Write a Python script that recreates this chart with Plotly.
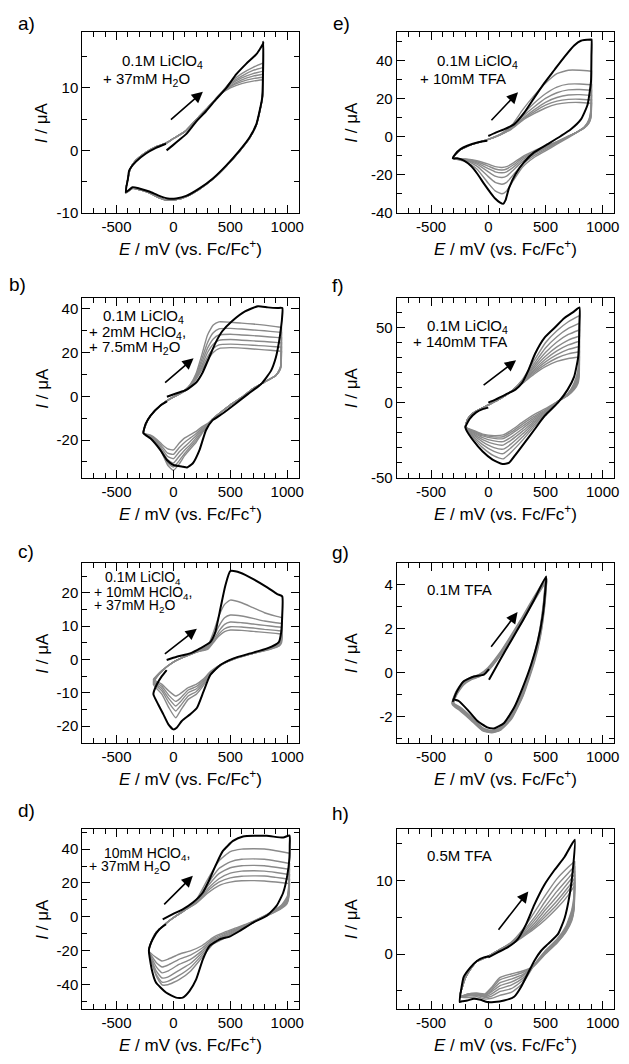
import plotly.graph_objects as go

W, H = 629, 1064
FONT = "Liberation Sans, Arial, sans-serif"

# ---------------- shared axis data ----------------
X_RANGE = [-800, 1100]
X_TICK_VALS = [-500, 0, 500, 1000]
X_TICK_TEXT = ["-500", "0", "500", "1000"]

# ---------------- panel a ----------------
A_BLK_E = [-60, -6, 53, 112, 200, 288, 376, 465, 553, 641, 729, 788, 790, 787, 780, 729, 670, 582, 465, 347,
           229, 112, 24, -50, -124, -212, -300, -359, -418, -400, -388, -329, -241, -153, -65]
A_BLK_I = [0.0, 0.8, 1.7, 2.6, 4.6, 6.3, 8.2, 10.0, 12.2, 13.9, 15.4, 17.1, 17.4, 12.0, 8.4, 4.2, 2.1, 0.0, -2.4, -4.5,
           -6.1, -7.3, -7.7, -7.7, -7.3, -6.6, -6.1, -5.9, -6.7, -4.6, -3.2, -1.8, -0.5, 0.4, 1.05]
A_FE = [-420, -400, -380, -330, -240, -150, -60, 0, 100, 200, 300, 400, 500, 600, 700, 790]
A_FI = [
    [-6.8, -4.6, -3.0, -1.6, -0.3, 0.6, 1.2, 1.9, 3.0, 4.9, 6.8, 8.8, 10.9, 12.3, 13.3, 14.0],
    [-6.8, -4.6, -3.0, -1.6, -0.3, 0.6, 1.2, 1.9, 3.0, 4.9, 6.8, 8.8, 10.7, 11.9, 12.8, 13.3],
    [-6.8, -4.6, -3.0, -1.6, -0.3, 0.6, 1.2, 1.9, 3.0, 4.9, 6.8, 8.8, 10.5, 11.6, 12.3, 12.7],
    [-6.8, -4.6, -3.0, -1.6, -0.3, 0.6, 1.2, 1.9, 3.0, 4.9, 6.8, 8.8, 10.3, 11.3, 11.9, 12.2],
    [-6.8, -4.6, -3.0, -1.6, -0.3, 0.6, 1.2, 1.9, 3.0, 4.9, 6.8, 8.8, 10.2, 11.0, 11.5, 11.7],
    [-6.8, -4.6, -3.0, -1.6, -0.3, 0.6, 1.2, 1.9, 3.0, 4.9, 6.8, 8.8, 10.0, 10.7, 11.1, 11.3],
]
A_RE = [790, 788, 780, 729, 670, 582, 465, 347, 229, 112, 24, -50, -124, -212, -300, -359, -420]
A_RI = [
    [14.0, 11.0, 8.2, 4.1, 2.0, -0.1, -2.5, -4.6, -6.2, -7.4, -7.9, -8.0, -7.6, -6.8, -6.3, -6.1, -6.8],
    [13.3, 10.8, 8.2, 4.1, 2.0, -0.1, -2.5, -4.6, -6.2, -7.4, -7.9, -8.0, -7.6, -6.8, -6.3, -6.1, -6.8],
    [12.7, 10.6, 8.2, 4.1, 2.0, -0.1, -2.5, -4.6, -6.2, -7.4, -7.9, -8.0, -7.6, -6.8, -6.3, -6.1, -6.8],
    [12.2, 10.4, 8.2, 4.1, 2.0, -0.1, -2.5, -4.6, -6.2, -7.4, -7.9, -8.0, -7.6, -6.8, -6.3, -6.1, -6.8],
    [11.7, 10.2, 8.2, 4.1, 2.0, -0.1, -2.5, -4.6, -6.2, -7.4, -7.9, -8.0, -7.6, -6.8, -6.3, -6.1, -6.8],
    [11.3, 10.0, 8.2, 4.1, 2.0, -0.1, -2.5, -4.6, -6.2, -7.4, -7.9, -8.0, -7.6, -6.8, -6.3, -6.1, -6.8],
]

# ---------------- panel e ----------------
E_BLK_E = [0, 64, 137, 225, 313, 400, 488, 576, 664, 751, 810, 898, 903, 902, 898, 868, 810, 722, 635, 518,
           400, 313, 240, 181, 150, 130, 100, 60, 20, -38, -96, -155, -213, -272, -310, -287, -243, -184, -96, -9]
E_BLK_I = [0.3, 2.1, 3.8, 6.4, 12.4, 20.2, 27.9, 34.8, 41.7, 47.8, 50.3, 50.9, 50.9, 42.6, 28.8, 16.7, 9.0, 3.8, 0.3, -4.0,
           -8.3, -13.4, -19.5, -27.0, -33.5, -35.3, -34.5, -32.5, -29.5, -24.7, -19.5, -15.2, -12.6, -11.4, -11.4, -9.1, -6.6, -4.8, -3.1, -2.2]
E_FE = [-310, -280, -240, -180, -100, 0, 100, 200, 300, 400, 500, 600, 700, 800, 903]
E_FI = [
    [-11.4, -9.0, -6.8, -5.0, -3.3, -1.5, 1.0, 5.5, 14.0, 21.5, 28.0, 33.0, 34.8, 34.8, 34.3],
    [-11.4, -9.0, -6.8, -5.0, -3.3, -1.5, 1.0, 4.8, 11.5, 17.5, 22.5, 26.0, 27.5, 27.6, 27.2],
    [-11.4, -9.0, -6.8, -5.0, -3.3, -1.5, 1.0, 4.5, 10.5, 15.5, 20.0, 23.0, 24.5, 24.7, 24.3],
    [-11.4, -9.0, -6.8, -5.0, -3.3, -1.5, 0.9, 4.2, 9.5, 14.0, 18.0, 20.5, 21.8, 22.0, 21.6],
    [-11.4, -9.0, -6.8, -5.0, -3.3, -1.5, 0.8, 4.0, 9.0, 13.0, 16.5, 18.6, 19.5, 19.6, 19.2],
    [-11.4, -9.0, -6.8, -5.0, -3.3, -1.5, 0.8, 3.8, 8.5, 12.0, 15.0, 17.0, 17.8, 17.9, 17.5],
]
E_RE = [903, 898, 880, 840, 780, 700, 600, 500, 400, 300, 220, 160, 120, 60, 0, -100, -200, -310]
E_RI = [
    [34.3, 15.0, 9.0, 5.0, 2.5, -0.5, -4.0, -7.5, -11.0, -16.0, -23.0, -28.5, -30.0, -28.5, -24.5, -17.0, -13.0, -11.4],
    [27.2, 13.5, 8.5, 5.0, 2.5, -0.2, -3.5, -6.8, -10.0, -14.5, -20.0, -24.0, -25.0, -24.0, -21.0, -15.5, -12.5, -11.4],
    [24.3, 12.5, 8.0, 4.8, 2.5, 0.0, -3.2, -6.2, -9.2, -13.0, -17.5, -20.8, -21.5, -20.8, -18.5, -14.5, -12.3, -11.4],
    [21.6, 11.5, 7.5, 4.7, 2.5, 0.1, -3.0, -5.8, -8.5, -12.0, -16.0, -18.5, -19.0, -18.5, -16.8, -13.8, -12.0, -11.4],
    [19.2, 10.5, 7.2, 4.6, 2.5, 0.2, -2.8, -5.4, -8.0, -11.2, -14.8, -17.0, -17.5, -17.0, -15.5, -13.2, -11.9, -11.4],
    [17.5, 10.0, 7.0, 4.5, 2.5, 0.2, -2.6, -5.0, -7.5, -10.5, -13.8, -15.8, -16.2, -15.8, -14.5, -12.7, -11.8, -11.4],
]

# ---------------- panel b ----------------
B_BLK_E = [-57, 29, 114, 200, 257, 314, 371, 429, 514, 629, 743, 829, 914, 957, 955, 949, 929, 900, 857, 771,
           657, 543, 429, 343, 286, 229, 171, 120, 86, 0, -57, -114, -200, -263, -243, -200, -114, -57]
B_BLK_I = [-0.2, 1.4, 2.9, 6.3, 10.9, 17.7, 24.5, 29.7, 34.3, 38.8, 41.1, 40.6, 40.3, 40.3, 36.0, 32.8, 25.2, 17.7, 11.6, 5.6,
           1.1, -3.5, -8.0, -11.0, -15.5, -24.6, -30.6, -32.5, -32.2, -31.4, -29.1, -24.6, -19.3, -16.8, -12.5, -8.8, -4.2, -2.3]
B_FE = [-263, -240, -200, -114, -30, 50, 100, 150, 200, 250, 300, 350, 400, 500, 600, 700, 800, 900, 950]
B_FI = [
    [-16.8, -12.5, -8.8, -4.2, -1.2, 1.0, 2.8, 5.5, 10.5, 19.0, 28.0, 32.5, 34.0, 33.8, 33.4, 33.0, 32.5, 31.8, 31.5],
    [-16.8, -12.5, -8.8, -4.2, -1.2, 1.0, 2.7, 5.3, 9.8, 17.0, 24.5, 29.0, 30.8, 31.0, 30.7, 30.3, 29.9, 29.4, 29.2],
    [-16.8, -12.5, -8.8, -4.2, -1.2, 1.0, 2.6, 5.1, 9.2, 15.5, 22.0, 26.2, 28.0, 28.3, 28.0, 27.7, 27.3, 26.9, 26.7],
    [-16.8, -12.5, -8.8, -4.2, -1.2, 1.0, 2.5, 4.9, 8.7, 14.0, 20.0, 23.8, 25.5, 25.9, 25.6, 25.3, 25.0, 24.6, 24.4],
    [-16.8, -12.5, -8.8, -4.2, -1.2, 1.0, 2.4, 4.7, 8.2, 13.0, 18.0, 21.8, 23.5, 23.8, 23.6, 23.3, 23.0, 22.6, 22.4],
    [-16.8, -12.5, -8.8, -4.2, -1.2, 1.0, 2.3, 4.5, 7.8, 12.0, 16.5, 20.0, 21.8, 22.2, 22.0, 21.6, 21.2, 20.8, 20.5],
]
B_RE = [950, 947, 940, 900, 800, 700, 600, 500, 400, 343, 300, 250, 200, 150, 100, 50, 0, -50, -100, -150, -200, -263]
B_RI = [
    [31.5, 20.0, 13.0, 9.5, 6.5, 3.5, -0.5, -4.0, -8.0, -10.5, -12.5, -14.0, -16.0, -17.5, -19.0, -21.5, -24.5, -24.0, -22.0, -19.5, -17.8, -16.8],
    [29.2, 19.0, 13.0, 9.5, 6.5, 3.5, -0.5, -4.0, -8.0, -10.5, -12.7, -14.6, -17.0, -19.0, -21.0, -23.5, -26.5, -26.0, -23.0, -20.0, -18.0, -16.8],
    [26.7, 18.0, 13.0, 9.5, 6.5, 3.5, -0.5, -4.0, -8.0, -10.5, -12.9, -15.2, -18.0, -20.5, -23.0, -25.5, -28.5, -27.5, -24.0, -20.5, -18.2, -16.8],
    [24.4, 17.0, 12.8, 9.5, 6.5, 3.5, -0.5, -4.0, -8.0, -10.5, -13.1, -15.8, -19.0, -22.0, -24.5, -27.5, -30.5, -29.0, -25.0, -21.0, -18.4, -16.8],
    [22.4, 16.0, 12.6, 9.5, 6.5, 3.5, -0.5, -4.0, -8.0, -10.5, -13.3, -16.4, -20.0, -23.0, -26.0, -29.5, -32.3, -30.5, -25.5, -21.3, -18.6, -16.8],
    [20.5, 15.0, 12.4, 9.5, 6.5, 3.5, -0.5, -4.0, -8.0, -10.5, -13.5, -17.0, -21.0, -24.0, -27.0, -31.0, -33.8, -31.5, -26.0, -21.5, -18.7, -16.8],
]

# ---------------- panel f ----------------
F_BLK_E = [0, 66, 151, 237, 294, 351, 409, 494, 580, 666, 751, 797, 797, 786, 751, 694, 609, 494, 409, 323,
           237, 180, 123, 37, -49, -134, -191, -200, -163, -106, -49, 0]
F_BLK_I = [0.0, 2.2, 5.4, 8.7, 13.0, 21.7, 32.6, 43.5, 50.0, 56.5, 60.9, 63.5, 52.2, 30.4, 17.4, 8.7, 0.0, -8.7, -17.4, -26.1,
           -34.8, -40.2, -40.9, -38.0, -32.6, -25.0, -18.5, -16.3, -10.9, -6.5, -4.3, -3.3]
F_FE = [-200, -180, -150, -100, -50, 0, 100, 200, 300, 400, 500, 600, 700, 797]
F_FI = [
    [-16.3, -11.0, -8.0, -5.5, -3.5, -1.5, 2.5, 7.5, 15.5, 28.0, 40.0, 48.0, 54.0, 58.0],
    [-16.3, -11.0, -8.0, -5.5, -3.5, -1.5, 2.5, 7.5, 15.0, 26.0, 36.5, 44.0, 49.5, 53.0],
    [-16.3, -11.0, -8.0, -5.5, -3.5, -1.5, 2.5, 7.5, 14.7, 24.5, 33.5, 40.5, 45.5, 48.5],
    [-16.3, -11.0, -8.0, -5.5, -3.5, -1.5, 2.5, 7.5, 14.4, 23.2, 31.0, 37.2, 41.8, 44.5],
    [-16.3, -11.0, -8.0, -5.5, -3.5, -1.5, 2.5, 7.5, 14.0, 22.0, 29.0, 34.5, 38.5, 41.0],
    [-16.3, -11.0, -8.0, -5.5, -3.5, -1.5, 2.5, 7.5, 13.7, 21.0, 27.2, 32.0, 35.5, 37.5],
    [-16.3, -11.0, -8.0, -5.5, -3.5, -1.5, 2.5, 7.5, 13.4, 20.0, 25.5, 29.8, 32.6, 34.0],
    [-16.3, -11.0, -8.0, -5.5, -3.5, -1.5, 2.5, 7.5, 13.0, 19.0, 24.0, 27.5, 29.5, 30.5],
]
F_RE = [797, 795, 785, 750, 700, 600, 500, 400, 300, 200, 130, 50, -50, -130, -200]
F_RI = [
    [58.0, 35.0, 22.0, 13.0, 6.5, 0.0, -8.5, -16.0, -25.0, -33.0, -37.5, -35.5, -30.0, -23.5, -16.3],
    [53.0, 32.0, 20.5, 12.3, 6.3, 0.1, -7.8, -14.8, -22.8, -30.0, -34.0, -32.5, -28.0, -22.5, -16.3],
    [48.5, 30.0, 19.3, 11.7, 6.1, 0.2, -7.2, -13.6, -20.8, -27.5, -31.0, -30.0, -26.2, -21.6, -16.3],
    [44.5, 27.5, 18.0, 11.0, 5.9, 0.2, -6.6, -12.5, -19.0, -25.0, -28.3, -27.5, -24.6, -20.8, -16.3],
    [41.0, 25.5, 16.8, 10.4, 5.7, 0.3, -6.0, -11.4, -17.3, -23.0, -26.0, -25.5, -23.3, -20.0, -16.3],
    [37.5, 23.0, 15.5, 9.8, 5.5, 0.4, -5.4, -10.3, -15.7, -21.0, -24.0, -23.8, -22.2, -19.4, -16.3],
    [34.0, 20.5, 14.2, 9.1, 5.2, 0.4, -4.7, -9.2, -14.3, -19.7, -22.7, -22.8, -21.5, -18.9, -16.3],
    [30.5, 18.0, 13.0, 8.5, 5.0, 0.5, -4.0, -8.0, -13.0, -18.5, -21.5, -22.0, -21.0, -18.5, -16.3],
]

# ---------------- panel c ----------------
C_BLK_E = [-59, 29, 147, 235, 324, 368, 412, 456, 500, 588, 706, 824, 912, 956, 956, 947, 926, 824, 676, 529,
           412, 324, 265, 206, 147, 74, 29, 0, -44, -88, -132, -176, -147, -103, -59]
C_BLK_I = [-0.2, 0.8, 1.8, 3.3, 5.2, 8.2, 15.1, 22.1, 26.5, 26.0, 24.0, 21.6, 19.6, 18.9, 13.2, 8.2, 5.2, 3.3, 1.8, 0.3,
           -1.7, -4.7, -9.6, -14.6, -16.5, -18.5, -20.5, -21.0, -19.5, -16.5, -13.6, -10.4, -7.6, -5.1, -3.2]
C_FE = [-176, -150, -100, -50, 0, 100, 200, 300, 350, 400, 450, 500, 600, 700, 800, 900, 956]
C_FI = [
    [-7.5, -5.5, -3.5, -2.0, -0.8, 0.8, 2.2, 4.0, 8.0, 13.0, 16.5, 17.8, 17.0, 15.5, 14.0, 13.0, 12.5],
    [-7.0, -5.5, -3.5, -2.0, -0.8, 0.8, 2.2, 3.7, 6.5, 10.0, 12.5, 13.3, 13.0, 12.3, 11.5, 11.0, 10.8],
    [-6.7, -5.3, -3.5, -2.0, -0.8, 0.8, 2.2, 3.5, 5.8, 8.5, 10.5, 11.2, 11.0, 10.6, 10.2, 9.8, 9.6],
    [-6.3, -5.1, -3.4, -2.0, -0.8, 0.8, 2.2, 3.2, 5.3, 7.6, 9.2, 9.8, 9.7, 9.4, 9.0, 8.7, 8.5],
    [-6.0, -5.0, -3.3, -2.0, -0.8, 0.8, 2.2, 3.0, 5.0, 7.0, 8.3, 8.8, 8.7, 8.4, 8.1, 7.8, 7.6],
]
C_RE = [956, 950, 930, 850, 700, 550, 420, 330, 260, 200, 130, 60, 20, -40, -100, -176]
C_RI = [
    [12.5, 7.0, 5.0, 3.5, 1.8, 0.3, -1.7, -4.5, -8.0, -10.5, -12.0, -15.5, -17.5, -14.5, -10.5, -7.5],
    [10.8, 6.5, 4.8, 3.4, 1.8, 0.3, -1.6, -4.2, -7.4, -9.7, -11.0, -14.0, -15.5, -13.0, -9.5, -7.0],
    [9.6, 6.0, 4.5, 3.3, 1.8, 0.4, -1.6, -4.0, -6.9, -8.9, -10.0, -12.8, -14.0, -11.8, -8.8, -6.7],
    [8.5, 5.5, 4.2, 3.1, 1.8, 0.4, -1.5, -3.7, -6.4, -8.2, -9.2, -11.7, -12.6, -10.8, -8.1, -6.3],
    [7.6, 5.0, 4.0, 3.0, 1.8, 0.5, -1.5, -3.5, -6.0, -7.5, -8.5, -10.3, -11.0, -9.5, -7.5, -6.0],
]

# ---------------- panel g ----------------
G_BLK_E = [6, 100, 200, 300, 400, 506, 497, 476, 432, 374, 300, 226, 138, 50, -9, -97, -185, -259, -303, -310,
           -274, -215, -126, -38, 6]
G_BLK_I = [-0.33, 0.55, 1.45, 2.35, 3.3, 4.38, 3.65, 2.6, 1.4, 0.35, -0.7, -1.6, -2.3, -2.55, -2.5, -2.2, -1.68, -1.3, -1.23, -1.3,
           -0.86, -0.4, -0.18, -0.1, 0.15]
G_FE = [-310, -280, -220, -150, -80, 0, 100, 200, 300, 400, 506]
G_FI = [
    [-1.40, -0.90, -0.45, -0.25, -0.12, 0.20, 0.85, 1.65, 2.50, 3.40, 4.30],
    [-1.40, -0.95, -0.50, -0.28, -0.15, 0.15, 0.80, 1.60, 2.45, 3.35, 4.25],
    [-1.45, -1.00, -0.55, -0.30, -0.17, 0.12, 0.78, 1.57, 2.40, 3.30, 4.20],
]
G_RE = [506, 490, 450, 400, 300, 200, 100, 30, -50, -150, -250, -310]
G_RI = [
    [4.30, 3.30, 1.80, 0.70, -0.95, -2.00, -2.55, -2.68, -2.55, -2.05, -1.60, -1.40],
    [4.25, 3.20, 1.70, 0.60, -1.00, -2.05, -2.60, -2.70, -2.60, -2.10, -1.65, -1.40],
    [4.20, 3.10, 1.60, 0.50, -1.05, -2.10, -2.62, -2.72, -2.62, -2.15, -1.70, -1.45],
]

# ---------------- panel d ----------------
D_BLK_E = [-94, -6, 82, 171, 259, 318, 376, 435, 524, 612, 818, 965, 1020, 1022, 1020, 1000, 965, 906, 818, 700,
           582, 494, 406, 318, 259, 200, 141, 82, 24, -65, -153, -190, -215, -182, -124, -65]
D_BLK_I = [-1.4, 1.6, 4.5, 8.5, 14.4, 22.2, 31.1, 38.9, 44.8, 47.4, 47.8, 46.8, 48.0, 42.0, 35.0, 24.2, 14.4, 6.5, 0.6, -3.3,
           -8.3, -11.6, -13.2, -17.1, -25.0, -36.8, -43.7, -47.6, -47.6, -44.6, -38.7, -31.0, -19.5, -13.2, -7.3, -4.3]
D_FE = [-215, -190, -150, -100, -50, 0, 100, 200, 300, 400, 500, 600, 700, 800, 900, 1020]
D_FI = [
    [-20.0, -14.0, -9.0, -6.0, -3.0, -0.5, 4.0, 10.0, 22.0, 33.0, 38.5, 40.0, 40.2, 40.0, 39.0, 37.5],
    [-20.0, -14.0, -9.0, -6.0, -3.0, -0.5, 4.0, 9.5, 19.5, 28.5, 32.5, 34.0, 34.2, 34.0, 33.0, 31.5],
    [-20.0, -14.0, -9.0, -6.0, -3.0, -0.5, 4.0, 9.0, 18.0, 25.5, 29.0, 30.2, 30.4, 30.2, 29.3, 28.0],
    [-20.0, -14.0, -9.0, -6.0, -3.0, -0.5, 4.0, 8.7, 16.5, 22.5, 25.8, 27.0, 27.2, 27.0, 26.2, 25.0],
    [-20.0, -14.0, -9.0, -6.0, -3.0, -0.5, 4.0, 8.3, 15.3, 20.5, 23.0, 24.0, 24.2, 24.1, 23.3, 22.2],
    [-20.0, -14.0, -9.0, -6.0, -3.0, -0.5, 4.0, 8.0, 14.0, 18.5, 20.5, 21.3, 21.4, 21.2, 20.6, 19.7],
]
D_RE = [1020, 1015, 1000, 950, 850, 750, 650, 550, 450, 350, 250, 150, 50, -50, -100, -150, -215]
D_RI = [
    [37.5, 20.0, 12.0, 7.0, 2.5, -1.0, -4.0, -6.5, -9.0, -12.0, -17.0, -20.0, -22.0, -25.0, -26.0, -24.0, -20.0],
    [31.5, 18.0, 11.0, 6.5, 2.3, -1.1, -4.3, -7.0, -9.7, -12.8, -18.5, -22.5, -25.0, -28.5, -29.5, -27.0, -20.0],
    [28.0, 16.5, 10.0, 6.0, 2.1, -1.2, -4.6, -7.5, -10.4, -13.6, -20.0, -25.0, -28.0, -32.0, -33.0, -29.5, -20.0],
    [25.0, 15.0, 9.3, 5.6, 1.9, -1.3, -4.9, -8.0, -11.1, -14.4, -21.3, -27.5, -31.5, -35.5, -36.0, -32.0, -20.0],
    [22.2, 13.5, 8.6, 5.3, 1.7, -1.4, -5.2, -8.5, -11.8, -15.2, -22.6, -29.8, -34.5, -38.0, -38.5, -34.0, -20.0],
    [19.7, 12.0, 8.0, 5.0, 1.5, -1.5, -5.5, -9.0, -12.5, -16.0, -24.0, -32.0, -37.0, -40.0, -40.0, -35.0, -20.0],
]

# ---------------- panel h ----------------
H_BLK_E = [0, 79, 168, 256, 329, 403, 491, 579, 668, 756, 741, 712, 668, 609, 521, 462, 403, 344, 285, 226,
           138, 50, -9, -68, -126, -185, -229, -250, -238, -215, -156, -97, -38, 6]
H_BLK_I = [-0.45, 0.2, 0.9, 2.0, 4.0, 6.7, 9.4, 11.4, 13.2, 15.5, 11.7, 8.1, 4.9, 2.7, 1.35, 0.45, -0.9, -2.7, -4.5, -5.8,
           -6.3, -6.5, -6.5, -6.2, -6.05, -6.3, -6.4, -6.5, -4.9, -3.1, -1.8, -0.9, -0.45, -0.3]
H_FE = [-250, -230, -200, -150, -100, 0, 100, 200, 300, 400, 500, 600, 700, 756]
H_FI = [
    [-5.8, -4.6, -3.2, -1.9, -1.0, -0.3, 0.6, 1.6, 3.3, 5.6, 8.0, 10.2, 11.8, 12.6],
    [-5.8, -4.6, -3.2, -1.9, -1.0, -0.3, 0.6, 1.5, 3.0, 4.9, 7.2, 9.3, 11.0, 11.9],
    [-5.8, -4.6, -3.2, -1.9, -1.0, -0.3, 0.6, 1.5, 2.8, 4.5, 6.5, 8.5, 10.3, 11.3],
    [-5.8, -4.6, -3.2, -1.9, -1.0, -0.3, 0.6, 1.4, 2.6, 4.1, 6.0, 7.8, 9.7, 10.8],
    [-5.8, -4.6, -3.2, -1.9, -1.0, -0.3, 0.6, 1.4, 2.5, 3.8, 5.5, 7.2, 9.1, 10.3],
    [-5.8, -4.6, -3.2, -1.9, -1.0, -0.3, 0.6, 1.3, 2.4, 3.6, 5.1, 6.7, 8.6, 9.8],
    [-5.8, -4.6, -3.2, -1.9, -1.0, -0.3, 0.6, 1.3, 2.3, 3.4, 4.7, 6.2, 8.0, 9.3],
]
H_RE = [756, 750, 730, 680, 600, 500, 400, 300, 200, 100, 30, -30, -100, -180, -250]
H_RI = [
    [12.6, 8.0, 6.0, 3.8, 2.0, 0.5, -1.5, -4.0, -5.2, -5.6, -6.0, -6.1, -5.8, -5.9, -5.8],
    [11.9, 7.6, 5.7, 3.6, 1.9, 0.4, -1.5, -3.6, -4.7, -5.1, -5.7, -5.9, -5.6, -5.7, -5.8],
    [11.3, 7.3, 5.4, 3.5, 1.8, 0.3, -1.5, -3.3, -4.2, -4.7, -5.4, -5.8, -5.5, -5.6, -5.8],
    [10.8, 7.0, 5.2, 3.4, 1.7, 0.2, -1.5, -3.0, -3.8, -4.3, -5.1, -5.7, -5.4, -5.5, -5.8],
    [10.3, 6.6, 5.0, 3.2, 1.6, 0.2, -1.6, -2.8, -3.4, -3.9, -4.9, -5.6, -5.4, -5.5, -5.8],
    [9.8, 6.3, 4.7, 3.1, 1.5, 0.1, -1.6, -2.5, -3.0, -3.5, -4.7, -5.5, -5.3, -5.4, -5.8],
    [9.3, 6.0, 4.5, 3.0, 1.5, 0.0, -1.6, -2.3, -2.7, -3.2, -4.5, -5.4, -5.3, -5.4, -5.8],
]

# ---------------- y axes, labels, texts, arrows ----------------
Y_RANGES = {"a": [-10.1, 19], "e": [-40.3, 55], "b": [-37.5, 45], "f": [-50.5, 70],
            "c": [-25.2, 29], "g": [-3.23, 5], "d": [-54.5, 52], "h": [-7.5, 17]}
Y_TICKS = {"a": [-10, 0, 10], "e": [-40, -20, 0, 20, 40], "b": [-20, 0, 20, 40], "f": [-50, 0, 50],
           "c": [-20, -10, 0, 10, 20], "g": [-2, 0, 2, 4], "d": [-40, -20, 0, 20, 40], "h": [0, 10]}
Y_MINOR = {"a": 5, "e": 10, "b": 10, "f": 10, "c": 5, "g": 1, "d": 10, "h": 5}
PANEL_TEXT = {
    "a": ["0.1M LiClO<sub>4</sub>", "+ 37mM H<sub>2</sub>O"],
    "e": ["0.1M LiClO<sub>4</sub>", "+ 10mM TFA"],
    "b": ["0.1M LiClO<sub>4</sub>", "+ 2mM HClO<sub>4</sub>,", "+ 7.5mM H<sub>2</sub>O"],
    "f": ["0.1M LiClO<sub>4</sub>", "+ 140mM TFA"],
    "c": ["0.1M LiClO<sub>4</sub>", "+ 10mM HClO<sub>4</sub>,", "+ 37mM H<sub>2</sub>O"],
    "g": ["0.1M TFA"],
    "d": ["10mM HClO<sub>4</sub>,", "+ 37mM H<sub>2</sub>O"],
    "h": ["0.5M TFA"],
}
# arrow (tail E, tail I, head E, head I)
ARROWS = {"a": (-35, 4.7, 259, 9.4), "e": (15, 7.8, 260, 23.3), "b": (-86, 5.6, 177, 17.4),
          "f": (-54, 10.9, 243, 28.3), "c": (-88, 1.3, 206, 9.2), "g": (15, 1.1, 256, 2.75),
          "d": (-94, 6.5, 171, 24.2), "h": (79, 3.1, 350, 8.5)}

PANEL_DATA = {
    "a": (A_BLK_E, A_BLK_I, A_FE, A_FI, A_RE, A_RI),
    "e": (E_BLK_E, E_BLK_I, E_FE, E_FI, E_RE, E_RI),
    "b": (B_BLK_E, B_BLK_I, B_FE, B_FI, B_RE, B_RI),
    "f": (F_BLK_E, F_BLK_I, F_FE, F_FI, F_RE, F_RI),
    "c": (C_BLK_E, C_BLK_I, C_FE, C_FI, C_RE, C_RI),
    "g": (G_BLK_E, G_BLK_I, G_FE, G_FI, G_RE, G_RI),
    "d": (D_BLK_E, D_BLK_I, D_FE, D_FI, D_RE, D_RI),
    "h": (H_BLK_E, H_BLK_I, H_FE, H_FI, H_RE, H_RI),
}
ORDER = ["a", "e", "b", "f", "c", "g", "d", "h"]

# ---------------- layout geometry (pixels) ----------------
BOX_X = [(83, 301), (400, 619)]
BOX_Y = [(32, 215), (300, 482), (567, 749), (835, 1017)]
LABEL_POS = {"a": (16, 24), "e": (334, 24), "b": (7, 287), "f": (333, 288),
             "c": (16, 556), "g": (333, 557), "d": (16, 817), "h": (333, 820)}
TEXT_POS = {
    "a": [(121, 62), (102, 80)],
    "e": [(438, 62), (421, 79)],
    "b": [(102, 319), (88, 335), (88, 350)],
    "f": [(428, 329), (414, 344)],
    "c": [(104, 582), (93, 597), (93, 611)],
    "g": [(428, 594)],
    "d": [(103, 860), (88, 874)],
    "h": [(428, 862)],
}
TEXT_SIZE = {"a": 15, "e": 15, "b": 15, "f": 15, "c": 14, "g": 15, "d": 14, "h": 15}
YTITLE_X = [42, 354]


def px(x, y):
    return x / W, 1 - y / H


fig = go.Figure()
layout = dict(width=W, height=H, margin=dict(l=0, r=0, t=0, b=0), autosize=False,
              plot_bgcolor="white", paper_bgcolor="white", showlegend=False,
              font=dict(family=FONT, color="black", size=15))
annotations = []
GRAY = "#8a8a8a"

for k, key in enumerate(ORDER, start=1):
    col = (k - 1) % 2
    row = (k - 1) // 2
    xs = "" if k == 1 else str(k)
    xref, yref = "x" + xs, "y" + xs
    blkE, blkI, fe, fi, re_, ri = PANEL_DATA[key]
    for f_i, r_i in zip(fi, ri):
        fig.add_trace(go.Scatter(x=fe + re_, y=f_i + r_i, mode="lines",
                                 line=dict(color=GRAY, width=1.4 if key != "g" else 2.6,
                                           shape="spline", smoothing=0.5),
                                 xaxis=xref, yaxis=yref, hoverinfo="skip"))
    fig.add_trace(go.Scatter(x=blkE, y=blkI, mode="lines",
                             line=dict(color="black", width=2, shape="spline", smoothing=0.5),
                             xaxis=xref, yaxis=yref, hoverinfo="skip"))

    x0, x1 = BOX_X[col]
    yt, yb = BOX_Y[row]
    common = dict(showline=True, linecolor="black", linewidth=1.2, mirror="allticks",
                  ticks="inside", ticklen=8, tickwidth=1.2, tickcolor="black",
                  showgrid=False, zeroline=False, tickfont=dict(size=15, family=FONT, color="black"))
    layout["xaxis" + xs] = dict(common, domain=[x0 / W, x1 / W], anchor=yref, range=X_RANGE,
                                tickmode="array", tickvals=X_TICK_VALS, ticktext=X_TICK_TEXT,
                                minor=dict(tickmode="linear", tick0=0, dtick=100, ticks="inside",
                                           ticklen=5, tickwidth=1.2, tickcolor="black", showgrid=False))
    ytv = Y_TICKS[key]
    layout["yaxis" + xs] = dict(common, domain=[1 - yb / H, 1 - yt / H], anchor=xref, range=Y_RANGES[key],
                                tickmode="array", tickvals=ytv, ticktext=[str(v) for v in ytv],
                                minor=dict(tickmode="linear", tick0=0, dtick=Y_MINOR[key], ticks="inside",
                                           ticklen=5, tickwidth=1.2, tickcolor="black", showgrid=False))

    # panel label
    lx, ly = px(*LABEL_POS[key])
    annotations.append(dict(x=lx, y=ly, xref="paper", yref="paper", text=key + ")", showarrow=False,
                            xanchor="left", yanchor="middle", font=dict(size=19, family=FONT)))
    # legend text
    for (tx, ty), line in zip(TEXT_POS[key], PANEL_TEXT[key]):
        ax_, ay_ = px(tx, ty)
        annotations.append(dict(x=ax_, y=ay_, xref="paper", yref="paper", text=line, showarrow=False,
                                xanchor="left", yanchor="middle",
                                font=dict(size=TEXT_SIZE[key], family=FONT)))
    # axis titles
    cx, cy = px((x0 + x1) / 2, yb + 35)
    annotations.append(dict(x=cx, y=cy, xref="paper", yref="paper",
                            text="<i>E</i> / mV (vs. Fc/Fc<sup>+</sup>)", showarrow=False,
                            xanchor="center", yanchor="middle", font=dict(size=17, family=FONT)))
    tx_, ty_ = px(YTITLE_X[col], (yt + yb) / 2)
    annotations.append(dict(x=tx_, y=ty_, xref="paper", yref="paper", text="<i>I</i> / μA",
                            showarrow=False, textangle=-90, xanchor="center", yanchor="middle",
                            font=dict(size=17, family=FONT)))
    # sweep arrow
    te, ti, he, hi = ARROWS[key]
    annotations.append(dict(x=he, y=hi, ax=te, ay=ti, xref=xref, yref=yref, axref=xref, ayref=yref,
                            text="", showarrow=True, arrowhead=2, arrowsize=1.4, arrowwidth=1.6,
                            arrowcolor="black"))

layout["annotations"] = annotations
fig.update_layout(**layout)
# no mode bar, and no default page margin, so the figure sits at the window's top-left corner
fig.write_html("out.html", config={"displayModeBar": False},
               post_script="document.body.style.margin='0px';")
